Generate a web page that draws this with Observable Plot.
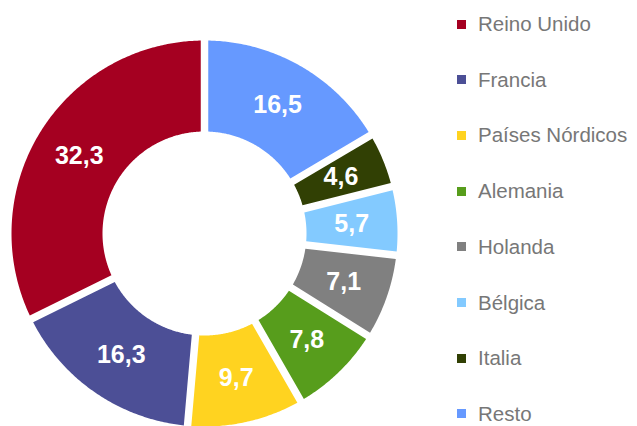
<!DOCTYPE html>
<html><head><meta charset="utf-8">
<script src="https://cdn.jsdelivr.net/npm/d3@7"></script>
<script src="https://cdn.jsdelivr.net/npm/@observablehq/plot@0.6"></script>
<style>
body{margin:0;background:#fff;}
#wrap{position:relative;width:637px;height:426px;font-family:"Liberation Sans",Arial,sans-serif;overflow:hidden;}
#wrap svg{position:absolute;left:0;top:0;}
.row{position:absolute;left:457px;height:18px;line-height:18px;display:flex;align-items:center;font-size:20.5px;color:#777;white-space:nowrap;}
.sw{width:9px;height:9px;margin-right:12px;flex:none;}
</style></head><body><div id="wrap"></div>
<script>
const categories = ["Reino Unido","Francia","Países Nórdicos","Alemania","Holanda","Bélgica","Italia","Resto"];
const values = [32.3,16.3,9.7,7.8,7.1,5.7,4.6,16.5];
const colors = ["#a50021","#4c4f96","#ffd320","#579d1c","#808080","#83caff","#314004","#6699ff"];

// geometry (unit circle), slices run counterclockwise from 12 o'clock
const inner = 102/193;
const gap = 7.5/193;
const total = d3.sum(values);
const dOut = Math.asin(gap/2), dIn = Math.asin(gap/2/inner);
let cum = 0;
const pts = [], labels = [];
categories.forEach((c, i) => {
  const a0 = -cum/total*2*Math.PI; cum += values[i];
  const a1 = -cum/total*2*Math.PI;
  const oS = a0 - dOut, oE = a1 + dOut, iS = a0 - dIn, iE = a1 + dIn;
  const n = Math.max(12, Math.ceil(Math.abs(oE - oS)/(Math.PI/360)));
  for (let k = 0; k <= n; k++) { const t = oS + (oE - oS)*k/n; pts.push({c, x: Math.sin(t), y: Math.cos(t)}); }
  for (let k = 0; k <= n; k++) { const t = iE + (iS - iE)*k/n; pts.push({c, x: inner*Math.sin(t), y: inner*Math.cos(t)}); }
  const m = (a0 + a1)/2, rm = (1 + inner)/2;
  labels.push({c, v: values[i], x: rm*Math.sin(m), y: rm*Math.cos(m)});
});

const chart = Plot.plot({
  width: 637, height: 426, margin: 0,
  x: {domain: [-1, 1], range: [11, 397], axis: null},
  y: {domain: [-1, 1], range: [426, 40], axis: null},
  color: {domain: categories, range: colors},
  style: {background: "transparent"},
  marks: [
    Plot.line(pts, {x: "x", y: "y", z: "c", fill: "c", stroke: "none", curve: "linear-closed"}),
    Plot.text(labels, {x: "x", y: "y", text: d => d.v.toFixed(1).replace(".", ","), fill: "white",
      fontSize: 25, fontWeight: "bold", fontFamily: "Liberation Sans, Arial, sans-serif"})
  ]
});
const wrap = document.getElementById("wrap");
wrap.appendChild(chart);

categories.forEach((c, i) => {
  const row = document.createElement("div");
  row.className = "row";
  row.style.top = (24 + 55.7*i - 9) + "px";
  const sw = document.createElement("span");
  sw.className = "sw";
  sw.style.background = colors[i];
  const tx = document.createElement("span");
  tx.textContent = c;
  row.appendChild(sw); row.appendChild(tx);
  wrap.appendChild(row);
});
</script></body></html>
